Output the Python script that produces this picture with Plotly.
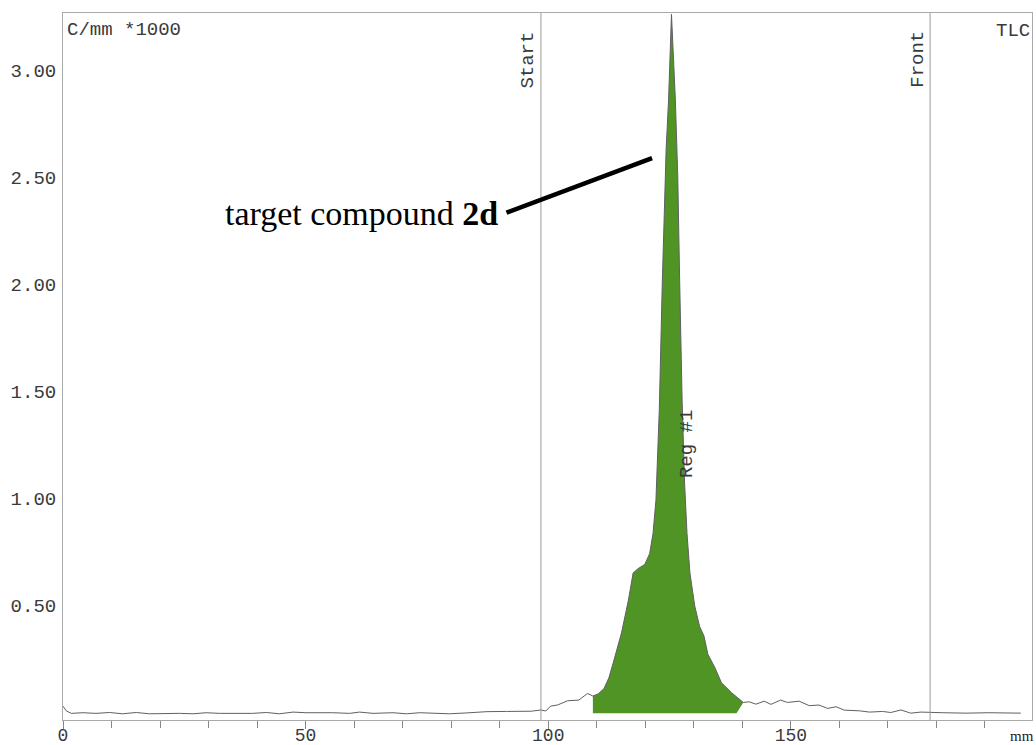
import plotly.graph_objects as go

# Radio-TLC scan: position (mm) vs counts (C/mm *1000)
pos_mm = [0, 0.66, 1.7, 4.1, 6.8, 9.6, 12.3, 15.1, 17.8, 21.3, 24.0, 26.8, 29.5, 32.3, 35.0,
          39.1, 41.9, 44.6, 47.4, 50.1, 55.6, 59.1, 61.1, 63.9, 68.0, 70.8, 73.5, 76.3, 79.7,
          83.1, 87.4, 91.4, 94.1, 96.5, 98.5, 99.5, 100.5, 101.9, 104.0, 106.3, 107.4, 108.1,
          109.2, 110.3, 111.5, 112.5, 113.4, 115.1, 116.5, 117.5, 118.5, 119.9, 120.9, 121.6,
          122.2, 122.6, 122.9, 123.5, 124.0, 124.3, 124.8, 125.4, 126.2, 126.7, 127.1, 127.6,
          128.1, 128.6, 129.2, 130.2, 131.2, 132.1, 132.9, 134.3, 135.7, 137.8, 140.2,
          141.4, 142.8, 144.5, 145.9, 147.9, 149.3, 151.7, 153.8, 155.8, 157.6, 159.3, 161.0,
          164.1, 166.2, 168.9, 170.6, 172.7, 174.7, 176.8, 181.3, 186.1, 190.8, 197.4]
counts = [0.028, 0.006, -0.006, -0.003, -0.006, -0.002, -0.008, -0.002, -0.008, -0.006, -0.006,
          -0.008, -0.003, -0.006, -0.006, -0.006, -0.002, -0.008, 0.0, -0.003, -0.003, -0.006,
          0.0, -0.006, -0.003, -0.008, -0.003, -0.006, -0.008, -0.004, 0.002, 0.003, 0.005,
          0.004, 0.010, 0.005, 0.028, 0.033, 0.053, 0.056, 0.075, 0.087,
          0.075, 0.085, 0.11, 0.16, 0.23, 0.37, 0.52, 0.65, 0.67, 0.69, 0.74, 0.835,
          0.99, 1.22, 1.42, 2.0, 2.39, 2.63, 2.86, 3.26, 2.86, 2.5, 2.0, 1.45,
          1.07, 0.835, 0.65, 0.495, 0.40, 0.355, 0.27, 0.21, 0.137, 0.09, 0.045,
          0.048, 0.037, 0.051, 0.036, 0.056, 0.045, 0.051, 0.030, 0.033, 0.017, 0.025, 0.009,
          0.006, 0.0, 0.003, -0.002, 0.010, -0.005, 0.0, -0.003, -0.005, -0.003, -0.005]

# Region of interest (Reg #1)
region_start = 109.2
region_end = 140.2
region_floor_end = 138.8
region_floor = -0.006

start_mm = 98.5
front_mm = 178.7

x_ticks = [0, 50, 100, 150]
y_ticks = [0.5, 1.0, 1.5, 2.0, 2.5, 3.0]
y_ticktext = ["0.50", "1.00", "1.50", "2.00", "2.50", "3.00"]

MONO = "Courier New, Liberation Mono, monospace"
SERIF = "Times New Roman, Liberation Serif, serif"
GREEN = "#4f9424"
TXT = "#3a3a3a"

reg_x = [x for x in pos_mm if region_start <= x <= region_end]
reg_y = [y for x, y in zip(pos_mm, counts) if region_start <= x <= region_end]
fill_x = [region_start] + reg_x + [region_floor_end, region_start]
fill_y = [region_floor] + reg_y + [region_floor, region_floor]

fig = go.Figure()
fig.add_trace(go.Scatter(x=fill_x, y=fill_y, fill="toself", fillcolor=GREEN,
                         line=dict(width=0), mode="lines", hoverinfo="skip", showlegend=False))
fig.add_trace(go.Scatter(x=pos_mm, y=counts, mode="lines",
                         line=dict(color="#606060", width=1), showlegend=False))

for xv in (start_mm, front_mm):
    fig.add_shape(type="line", xref="x", yref="paper", x0=xv, x1=xv, y0=0, y1=1,
                  line=dict(color="#9a9a9a", width=1))

# pointer line for label
fig.add_shape(type="line", xref="x", yref="y", x0=91.4, y0=2.333, x1=121.4, y1=2.588,
              line=dict(color="black", width=4.5))

fig.add_annotation(x=90.0, y=2.33, xref="x", yref="y", xanchor="right", yanchor="middle",
                   text="target compound <b>2d</b>", showarrow=False,
                   font=dict(family=SERIF, size=34, color="black"))

fig.add_annotation(x=start_mm, y=0.934, xref="x", yref="paper", text="Start", textangle=-90,
                   xanchor="center", yanchor="middle",
                   showarrow=False, xshift=-13, font=dict(family=MONO, size=19, color=TXT))
fig.add_annotation(x=front_mm, y=0.934, xref="x", yref="paper", text="Front", textangle=-90,
                   xanchor="center", yanchor="middle",
                   showarrow=False, xshift=-12, font=dict(family=MONO, size=19, color=TXT))
fig.add_annotation(x=128.5, y=1.25, xref="x", yref="y", text="Reg #1", textangle=-90,
                   xanchor="center", yanchor="middle",
                   showarrow=False, font=dict(family=MONO, size=19, color=TXT))
fig.add_annotation(x=0, y=1, xref="paper", yref="paper", xanchor="left", yanchor="top",
                   text="C/mm *1000", showarrow=False, xshift=2, yshift=-4,
                   font=dict(family=MONO, size=19, color=TXT))
fig.add_annotation(x=1, y=1, xref="paper", yref="paper", xanchor="right", yanchor="top",
                   text="TLC", showarrow=False, yshift=-5,
                   font=dict(family=MONO, size=19, color=TXT))
fig.add_annotation(x=1, y=0, xref="paper", yref="paper", xanchor="right", yanchor="top",
                   text="mm", showarrow=False, yshift=-6, xshift=4,
                   font=dict(family=SERIF, size=15, color="#222"))

fig.update_layout(
    width=1036, height=745,
    margin=dict(l=63, r=4, t=13, b=25, autoexpand=False),
    paper_bgcolor="white", plot_bgcolor="white",
    showlegend=False,
    xaxis=dict(range=[0, 199.7], tickvals=x_ticks, ticks="outside", ticklen=8,
               tickcolor="#888", showline=True, linecolor="#aaaaaa", linewidth=1,
               mirror=True, showgrid=False, zeroline=False, automargin=False,
               ticklabelstandoff=-10,
               tickfont=dict(family=MONO, size=18, color=TXT),
               minor=dict(dtick=10, tick0=0, ticks="outside", ticklen=7, tickcolor="#888")),
    yaxis=dict(range=[-0.037, 3.266], tickvals=y_ticks, ticktext=y_ticktext, ticks="",
               showline=True, linecolor="#aaaaaa", linewidth=1, mirror=True,
               showgrid=False, zeroline=False, ticklabelstandoff=2, automargin=False,
               tickfont=dict(family=MONO, size=19, color=TXT)),
)

fig.write_html("out.html")
